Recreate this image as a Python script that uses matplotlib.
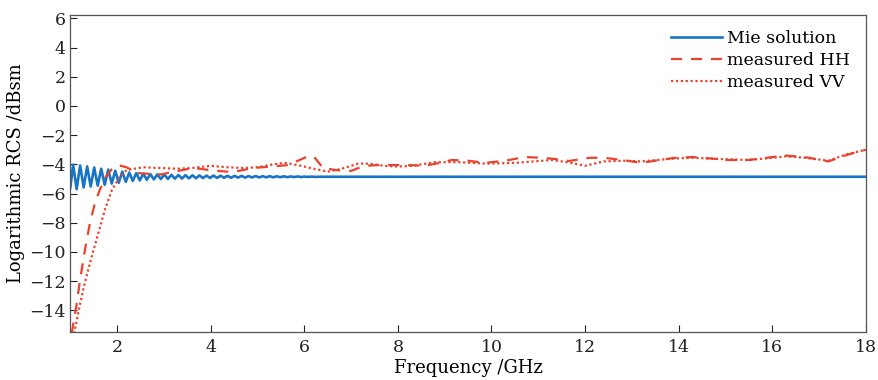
import matplotlib
matplotlib.use("Agg")
import matplotlib.pyplot as plt

# ---------------- data ----------------
mie_freq = [1.00,
            1.06, 1.135, 1.21, 1.285, 1.36, 1.435, 1.51, 1.585, 1.66, 1.735,
            1.81, 1.885, 1.96, 2.035, 2.11, 2.185, 2.26, 2.335, 2.41, 2.485,
            2.56, 2.635, 2.71, 2.785, 2.86, 2.935, 3.01, 3.085, 3.16, 3.235,
            3.31, 3.385, 3.46, 3.535, 3.61, 3.685, 3.76, 3.835, 3.91, 3.985,
            4.06, 4.135, 4.21, 4.285, 4.36, 4.435, 4.51, 4.585, 4.66, 4.735,
            4.81, 4.885, 4.96, 5.035, 5.11, 5.185, 5.26, 5.335, 5.41, 5.485,
            5.56, 5.635, 5.71, 5.785, 5.86, 5.935, 6.01, 6.085, 6.16, 6.235,
            6.31, 6.385, 6.46, 7.0, 10.0, 14.0, 18.0]
mie_rcs = [-5.60,
           -4.02, -5.70, -4.08, -5.58, -4.14, -5.52, -4.22, -5.46, -4.30, -5.40,
           -4.36, -5.32, -4.44, -5.26, -4.50, -5.20, -4.56, -5.14, -4.60, -5.10,
           -4.64, -5.06, -4.67, -5.03, -4.69, -5.01, -4.70, -5.00, -4.72, -4.98,
           -4.73, -4.97, -4.74, -4.96, -4.75, -4.95, -4.76, -4.94, -4.77, -4.93,
           -4.77, -4.93, -4.78, -4.92, -4.78, -4.92, -4.79, -4.91, -4.79, -4.91,
           -4.80, -4.90, -4.80, -4.90, -4.81, -4.89, -4.81, -4.89, -4.82, -4.88,
           -4.82, -4.88, -4.83, -4.87, -4.83, -4.87, -4.84, -4.86, -4.84, -4.86,
           -4.85, -4.85, -4.85, -4.85, -4.85, -4.85, -4.85]

hh_freq = [1.03, 1.08, 1.13, 1.20, 1.31, 1.42, 1.53, 1.63, 1.75, 1.88,
           2.02, 2.20, 2.43, 2.70, 2.92, 3.30, 3.63, 4.00, 4.35, 4.60,
           4.90, 5.30, 5.65, 5.90, 6.08, 6.20, 6.40, 6.70, 7.00, 7.28,
           7.60, 7.86, 8.20, 8.57, 8.90, 9.15, 9.50, 9.86, 10.3, 10.7,
           11.1, 11.4, 11.66, 12.1, 12.4, 12.8, 13.2, 13.6, 13.9, 14.3,
           14.7, 15.0, 15.5, 16.0, 16.3, 16.7, 17.2, 17.6, 18.0]
hh_rcs = [-15.6, -14.6, -13.7, -12.1, -9.9, -8.0, -6.6, -5.75, -4.9, -4.35,
          -4.05, -4.2, -4.6, -4.65, -4.7, -4.45, -4.25, -4.4, -4.5, -4.45,
          -4.25, -4.15, -4.05, -3.7, -3.45, -3.45, -4.25, -4.4, -4.45, -4.1,
          -4.05, -4.05, -4.05, -4.1, -3.9, -3.7, -3.75, -3.9, -3.75, -3.5,
          -3.55, -3.65, -3.77, -3.55, -3.55, -3.7, -3.9, -3.7, -3.56, -3.5,
          -3.6, -3.7, -3.7, -3.5, -3.4, -3.5, -3.8, -3.35, -3.0]

vv_freq = [1.08, 1.20, 1.31, 1.46, 1.60, 1.74, 1.89, 2.05, 2.20, 2.55,
           2.90, 3.28, 3.60, 4.00, 4.35, 4.70, 5.00, 5.43, 5.60, 5.93,
           6.20, 6.50, 6.80, 7.15, 7.40, 7.70, 8.00, 8.30, 8.80, 9.30,
           9.86, 10.5, 11.3, 11.7, 12.0, 12.4, 12.8, 13.2, 13.9, 14.3,
           15.0, 15.5, 16.0, 16.3, 16.7, 17.2, 17.6, 18.0]
vv_rcs = [-15.6, -13.7, -12.1, -10.3, -8.7, -7.1, -5.75, -4.9, -4.4, -4.2,
          -4.25, -4.3, -4.25, -4.1, -4.2, -4.25, -4.2, -3.95, -3.9, -4.1,
          -4.3, -4.5, -4.3, -3.95, -3.95, -4.1, -4.15, -4.1, -3.85, -3.85,
          -3.95, -3.9, -3.7, -3.9, -4.1, -3.8, -3.75, -3.8, -3.6, -3.55,
          -3.65, -3.7, -3.55, -3.45, -3.55, -3.75, -3.3, -3.0]

series_labels = ["Mie solution", "measured HH", "measured VV"]
x_ticks = [2, 4, 6, 8, 10, 12, 14, 16, 18]
y_ticks = [-14, -12, -10, -8, -6, -4, -2, 0, 2, 4, 6]

# ---------------- plot ----------------
plt.rcParams['font.family'] = ['DejaVu Serif']
plt.rcParams['mathtext.fontset'] = 'dejavuserif'

fig = plt.figure(figsize=(8.79, 3.80), dpi=100)
ax = fig.add_axes([0.080, 0.126, 0.905, 0.835])

blue = '#1874c6'
red = '#e8432e'

ax.plot(mie_freq, mie_rcs, color=blue, lw=1.9, label=series_labels[0])
ax.plot(hh_freq, hh_rcs, color=red, lw=1.6, ls=(0, (5, 4)), label=series_labels[1])
ax.plot(vv_freq, vv_rcs, color=red, lw=1.6, ls=(0, (1, 1.2)), label=series_labels[2])

ax.set_xlim(1, 18)
ax.set_ylim(-15.5, 6.25)
ax.set_xticks(x_ticks)
ax.set_yticks(y_ticks)
ax.set_xticklabels([str(t) for t in x_ticks])
ax.set_yticklabels([("\u2212" + str(-t)) if t < 0 else str(t) for t in y_ticks])
ax.tick_params(direction='in', length=5, width=0.8, labelsize=12.5,
               top=False, right=False, colors='#222222')
ax.tick_params(axis='x', pad=5)
for s in ax.spines.values():
    s.set_color('#555555')
    s.set_linewidth(0.9)

ax.set_xlabel("Frequency /GHz", fontsize=13, labelpad=2)
ax.set_ylabel("Logarithmic RCS /dBsm", fontsize=13, labelpad=3)

leg = ax.legend(loc='upper right', frameon=False, fontsize=12.5,
                handlelength=2.9, handletextpad=0.3, labelspacing=0.3,
                borderaxespad=0.2, bbox_to_anchor=(0.993, 0.985))

fig.savefig("out.png", dpi=100)
